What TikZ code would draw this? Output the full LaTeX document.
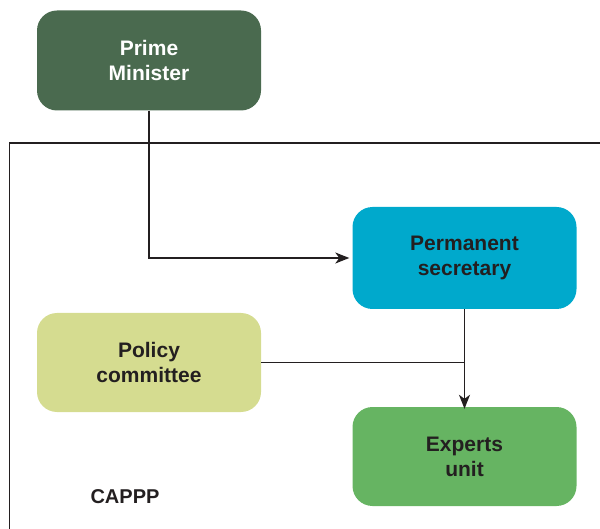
\documentclass[tikz,border=0pt]{standalone}
\usepackage{fontspec}
\setmainfont{Liberation Sans}
\usetikzlibrary{arrows.meta}
\definecolor{pmgreen}{HTML}{4A6A4F}
\definecolor{pscyan}{HTML}{00A9CC}
\definecolor{polyellow}{HTML}{D5DC90}
\definecolor{expgreen}{HTML}{66B462}
\definecolor{ink}{HTML}{231F20}
\tikzset{
  unit/.style={rounded corners=20pt, minimum width=224pt, minimum height=100pt,
    align=center, font=\fontsize{21}{25}\selectfont\bfseries, text=ink, inner sep=0pt},
  conn/.style={draw=ink, line width=1.3pt},
  tip/.style={-{Stealth[length=14pt,width=11pt,inset=4pt]}}
}
\begin{document}
\begin{tikzpicture}[x=1pt,y=-1pt]
\useasboundingbox (0,0) rectangle (600,529);
% frame
\draw[conn] (9.5,540) -- (9.5,143) -- (610,143);
\node[unit, fill=pmgreen, text=white] (pm) at (149,60.5) {Prime\\Minister};
\node[unit, fill=pscyan, minimum height=102pt] (ps) at (464.5,258) {Permanent\\secretary};
\node[unit, fill=polyellow, minimum height=99pt] (pc) at (149,362.5) {Policy\\committee};
\node[unit, fill=expgreen, minimum height=99pt] (eu) at (464.5,456.5) {Experts\\unit};
\node[font=\fontsize{20}{24}\selectfont\bfseries, text=ink] (cap) at (125,497) {CAPPP};
\draw[conn, tip] (pm.south) |- ([xshift=-3pt]ps.west);
\draw[conn, tip] (ps.south) -- ([yshift=-2pt]eu.north);
\coordinate (j) at (ps.south |- pc.east);
\draw[conn] (pc.east) -- (j);
\end{tikzpicture}
\end{document}
